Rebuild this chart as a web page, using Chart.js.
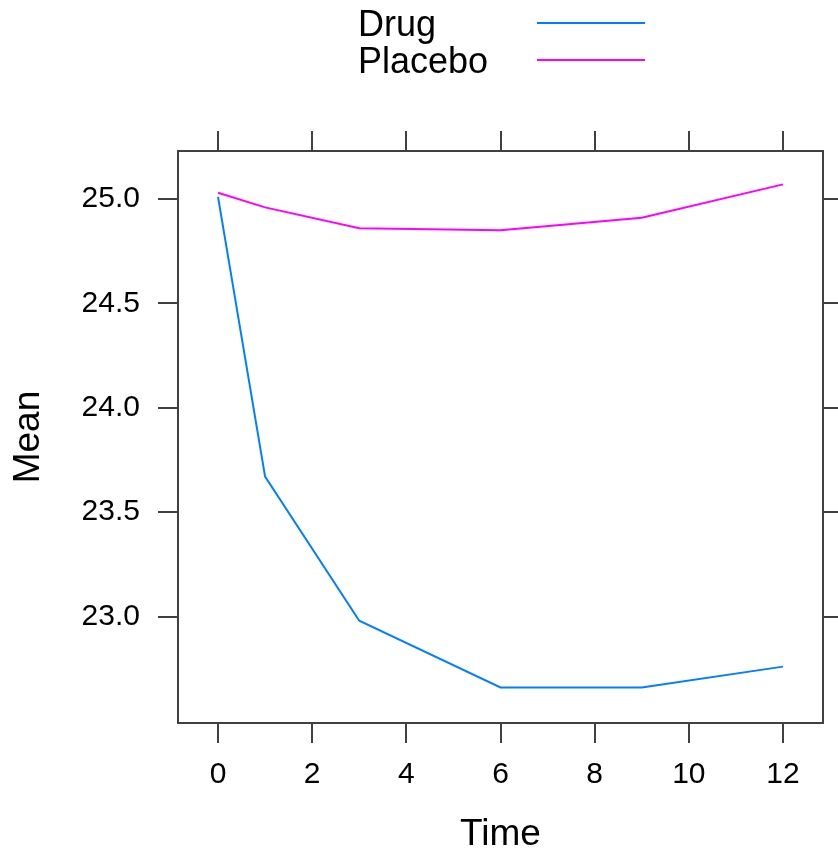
<!DOCTYPE html>
<html>
<head>
<meta charset="utf-8">
<script src="https://cdn.jsdelivr.net/npm/chart.js@4.4.0/dist/chart.umd.min.js"></script>
<style>
  html, body { margin: 0; padding: 0; background: #fff; }
</style>
</head>
<body>
<canvas id="chart" width="838" height="853"></canvas>
<script>
// Values
const tempos = [0, 1, 3, 6, 9, 12];
const mediaDrug = [25.01, 23.67, 22.98, 22.66, 22.66, 22.76];
const mediaPlacebo = [25.03, 24.96, 24.86, 24.85, 24.91, 25.07];
const series = ["Drug", "Placebo"];
const cores = ["#0080ff", "#ff00ff"];
const ticksX = [0, 2, 4, 6, 8, 10, 12];
const ticksY = [23.0, 23.5, 24.0, 24.5, 25.0];

const fonte = '"Liberation Sans", Arial, Helvetica, sans-serif';
const corEixo = "#404040";
Chart.defaults.font.family = fonte;
Chart.defaults.color = "#000";

// Legend drawn like lattice: text on the left, line sample on the right
const legendaTopo = {
  id: "legendaTopo",
  afterDraw(chart) {
    const ctx = chart.ctx;
    ctx.save();
    ctx.font = "36px " + fonte;
    ctx.fillStyle = "#000";
    ctx.textBaseline = "alphabetic";
    series.forEach((nome, i) => {
      const y = 36 + i * 37;
      ctx.fillText(nome, 358, y);
      ctx.strokeStyle = cores[i];
      ctx.lineWidth = 2;
      ctx.beginPath();
      ctx.moveTo(537, y - 13);
      ctx.lineTo(645, y - 13);
      ctx.stroke();
    });
    ctx.restore();
  }
};

function pontos(valores) {
  return tempos.map((t, i) => ({ x: t, y: valores[i] }));
}

function eixo(pos, lista, tamanho, comRotulos) {
  const horizontal = pos === "top" || pos === "bottom";
  return {
    type: "linear",
    position: pos,
    min: horizontal ? -0.85 : 22.49,
    max: horizontal ? 12.85 : 25.23,
    afterBuildTicks: s => { s.ticks = lista.map(v => ({ value: v })); },
    afterFit: s => { if (horizontal) s.height = tamanho; else s.width = tamanho; },
    grid: { drawOnChartArea: false, drawTicks: true, tickLength: 20, color: corEixo, lineWidth: 2 },
    border: { display: true, color: corEixo, width: 2 },
    ticks: {
      display: comRotulos,
      autoSkip: false,
      maxRotation: 0,
      font: { size: 30 },
      padding: horizontal ? 14 : 18,
      callback: v => horizontal ? String(v) : v.toFixed(1)
    }
  };
}

const escalas = {
  x: eixo("bottom", ticksX, 130, true),
  x2: eixo("top", ticksX, 151, false),
  y: eixo("left", ticksY, 178, true),
  y2: eixo("right", ticksY, 15, false)
};
escalas.x.title = { display: true, text: "Time", font: { size: 37, lineHeight: 1 }, padding: 0 };
escalas.y.title = { display: true, text: "Mean", font: { size: 37, lineHeight: 1 }, padding: { top: 10, bottom: 0 } };

new Chart(document.getElementById("chart"), {
  type: "line",
  data: {
    datasets: series.map((nome, i) => ({
      label: nome,
      data: pontos(i === 0 ? mediaDrug : mediaPlacebo),
      borderColor: cores[i],
      borderWidth: 2,
      pointRadius: 0,
      tension: 0,
      fill: false,
      xAxisID: "x",
      yAxisID: "y"
    }))
  },
  options: {
    responsive: false,
    animation: false,
    devicePixelRatio: 1,
    layout: { padding: 0, autoPadding: false },
    plugins: { legend: { display: false }, tooltip: { enabled: false } },
    scales: escalas
  },
  plugins: [legendaTopo]
});
</script>
</body>
</html>
